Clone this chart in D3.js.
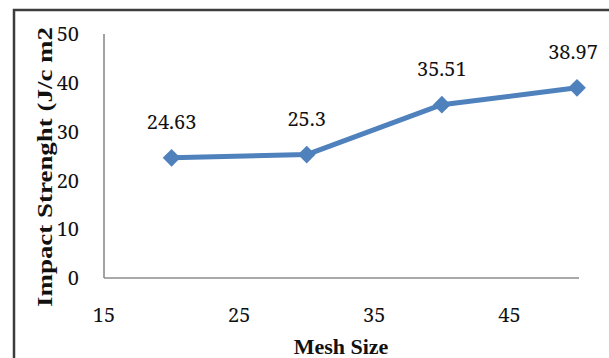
<!DOCTYPE html>
<html>
<head>
<meta charset="utf-8">
<script src="https://cdn.jsdelivr.net/npm/d3@7"></script>
<style>
  html, body { margin: 0; padding: 0; background: #fff; }
</style>
</head>
<body>
<svg id="chart" width="609" height="358" style="display:block"></svg>
<script>
// Impact strength versus mesh size
const meshSizes = [20, 30, 40, 50];
const impactStrength = [24.63, 25.3, 35.51, 38.97];
const xTicks = [15, 25, 35, 45];
const yTicks = [0, 10, 20, 30, 40, 50];

const NUM_FONT = "'Noto Serif', 'DejaVu Serif', serif";
const TITLE_FONT = "'Liberation Serif', 'Times New Roman', Times, serif";

const svg = d3.select("#chart");
const W = 609, H = 358;

// outer frame (top and left edges visible)
svg.append("rect")
  .attr("x", 14).attr("y", 10)
  .attr("width", W + 20).attr("height", H + 20)
  .attr("fill", "none")
  .attr("stroke", "#3c3c3c")
  .attr("stroke-width", 2.5);

const x = d3.scaleLinear().domain([15, 50]).range([104, 577]);
const y = d3.scaleLinear().domain([0, 50]).range([278, 34]);

// axis lines
svg.append("line")
  .attr("x1", x(15)).attr("x2", 579)
  .attr("y1", y(0)).attr("y2", y(0))
  .attr("stroke", "#8c8c8c").attr("stroke-width", 1.6);
svg.append("line")
  .attr("x1", x(15)).attr("x2", x(15))
  .attr("y1", y(0)).attr("y2", y(50))
  .attr("stroke", "#8c8c8c").attr("stroke-width", 1.6);

// y tick labels
svg.append("g").selectAll("text").data(yTicks).join("text")
  .attr("x", 79)
  .attr("y", d => y(d))
  .attr("dy", "0.36em")
  .attr("text-anchor", "end")
  .attr("font-family", NUM_FONT)
  .attr("font-size", 20)
  .attr("fill", "#111")
  .text(d => d);

// x tick labels
svg.append("g").selectAll("text").data(xTicks).join("text")
  .attr("x", d => x(d))
  .attr("y", 322)
  .attr("text-anchor", "middle")
  .attr("font-family", NUM_FONT)
  .attr("font-size", 20)
  .attr("fill", "#111")
  .text(d => d);

// axis titles
svg.append("text")
  .attr("x", 341).attr("y", 354)
  .attr("text-anchor", "middle")
  .attr("font-family", TITLE_FONT)
  .attr("font-size", 22)
  .attr("font-weight", "bold")
  .attr("fill", "#111")
  .text("Mesh Size");

svg.append("text")
  .attr("transform", "translate(52,167) rotate(-90)")
  .attr("text-anchor", "middle")
  .attr("font-family", TITLE_FONT)
  .attr("font-size", 22)
  .attr("font-weight", "bold")
  .attr("fill", "#111")
  .attr("textLength", 280)
  .attr("lengthAdjust", "spacingAndGlyphs")
  .text("Impact  Strenght (J/c m2");

const pts = meshSizes.map((m, i) => ({ m, v: impactStrength[i] }));

// series line
svg.append("path")
  .datum(pts)
  .attr("fill", "none")
  .attr("stroke", "#4f81bd")
  .attr("stroke-width", 5)
  .attr("stroke-linejoin", "round")
  .attr("d", d3.line().x(d => x(d.m)).y(d => y(d.v)));

// diamond markers
svg.append("g").selectAll("path").data(pts).join("path")
  .attr("transform", d => `translate(${x(d.m)},${y(d.v)})`)
  .attr("d", d3.symbol(d3.symbolDiamond2, 200)())
  .attr("fill", "#4f81bd");

// value labels
svg.append("g").selectAll("text").data(pts).join("text")
  .attr("x", d => Math.min(x(d.m), 573))
  .attr("y", d => y(d.v) - 29)
  .attr("text-anchor", "middle")
  .attr("font-family", NUM_FONT)
  .attr("font-size", 20)
  .attr("fill", "#111")
  .text(d => d.v);
</script>
</body>
</html>
